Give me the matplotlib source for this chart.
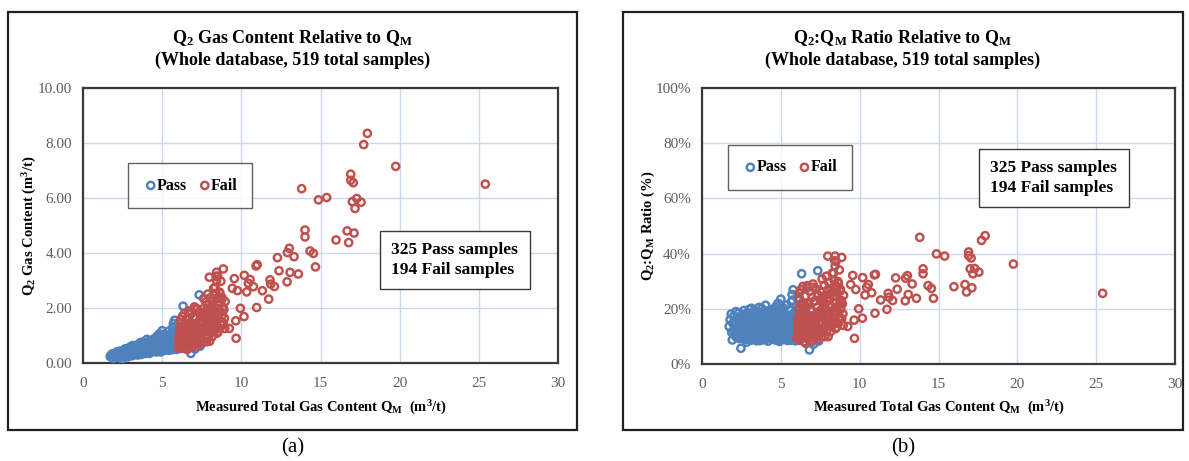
import matplotlib
matplotlib.use("Agg")
import matplotlib.pyplot as plt
import numpy as np
from matplotlib.patches import Rectangle
from matplotlib.ticker import FuncFormatter

# ---------------------------------------------------------------- data
# Measured total gas content Q_M (m3/t) and Q2:Q_M ratio (%) per sample

pass_qm = [
    1.72, 1.78, 1.85, 1.88, 1.92, 1.95, 2.00, 2.03, 2.08, 2.10,
    2.15, 2.18, 2.20, 2.25, 2.28, 2.30, 2.33, 2.36, 2.40, 2.42,
    2.45, 2.47, 2.50, 2.38, 2.12,
    2.52, 2.55, 2.58, 2.60, 2.62, 2.65, 2.67, 2.70, 2.72, 2.75,
    2.77, 2.80, 2.82, 2.85, 2.87, 2.90, 2.92, 2.95, 2.97, 3.00,
    3.02, 3.05, 3.07, 3.10, 3.12, 3.15, 3.17, 3.20, 3.22, 3.25,
    3.27, 3.30, 3.32, 3.35, 3.37, 3.40, 3.42, 3.45, 3.47, 3.50,
    2.56, 2.63, 2.71, 2.79, 2.86, 2.94, 3.03, 3.11, 3.19, 3.28,
    3.36, 3.44, 2.68, 2.83, 2.99, 3.14, 3.31, 3.48, 2.74, 3.09,
    3.52, 3.54, 3.57, 3.59, 3.61, 3.63, 3.66, 3.68, 3.70, 3.72,
    3.75, 3.77, 3.79, 3.81, 3.84, 3.86, 3.88, 3.90, 3.93, 3.95,
    3.97, 3.99, 4.01, 4.03, 4.06, 4.08, 4.10, 4.12, 4.15, 4.17,
    4.19, 4.21, 4.24, 4.26, 4.28, 4.30, 4.33, 4.35, 4.37, 4.39,
    4.42, 4.44, 4.46, 4.48, 3.53, 3.58, 3.64, 3.69, 3.74, 3.80,
    3.85, 3.91, 3.96, 4.02, 4.07, 4.13, 4.18, 4.23, 4.29, 4.34,
    4.40, 4.45, 3.62, 3.78, 3.94, 4.05, 4.20, 4.36, 3.71, 4.00,
    4.50, 4.52, 4.55, 4.57, 4.59, 4.62, 4.64, 4.66, 4.68, 4.71,
    4.73, 4.75, 4.78, 4.80, 4.82, 4.84, 4.87, 4.89, 4.91, 4.93,
    4.96, 4.98, 5.00, 5.02, 5.05, 5.07, 5.09, 5.11, 5.14, 5.16,
    5.18, 5.20, 5.23, 5.25, 5.27, 5.29, 5.32, 5.34, 5.36, 5.38,
    5.41, 5.43, 5.45, 5.47, 5.49, 4.53, 4.58, 4.63, 4.69, 4.74,
    4.79, 4.85, 4.90, 4.95, 5.01, 5.06, 5.12, 5.17, 5.22, 5.28,
    5.33, 5.39, 5.44, 4.61, 4.76, 4.92, 5.04, 5.15, 5.31, 5.46,
    4.67, 4.83, 4.97, 5.10, 5.26,
    5.50, 5.52, 5.54, 5.56, 5.58, 5.60, 5.62, 5.64, 5.66, 5.68,
    5.70, 5.72, 5.74, 5.76, 5.78, 5.80, 5.82, 5.84, 5.86, 5.88,
    5.90, 5.92, 5.94, 5.96, 5.98, 6.00, 6.02, 6.04, 6.06, 6.08,
    6.10, 6.12, 6.14, 6.16, 6.18, 6.20, 6.22, 6.24, 6.26, 6.28,
    6.30, 6.32, 6.34, 6.36, 6.38, 6.40, 6.42, 6.44, 6.46, 6.48,
    5.53, 5.57, 5.61, 5.65, 5.69, 5.73, 5.79, 5.83, 5.89, 5.95,
    6.01, 6.07, 6.13, 6.19, 6.25, 6.31, 6.37, 6.43, 5.71, 5.91,
    6.52, 6.56, 6.60, 6.63, 6.67, 6.70, 6.74, 6.78, 6.81, 6.85,
    6.90, 6.95, 7.00, 7.05, 7.10, 7.15, 7.20, 7.25, 7.30, 7.34,
    7.40, 7.45, 7.50, 6.65, 7.08,
]

pass_ratio = [
    13.6, 16.0, 18.1, 11.5, 8.7, 14.8, 12.2, 17.5, 10.4, 15.3,
    19.0, 13.0, 9.6, 16.8, 11.8, 14.2, 18.5, 12.6, 10.1, 15.9,
    13.4, 5.7, 17.2, 9.2, 12.9,
    14.1, 10.8, 17.9, 12.3, 9.5, 15.6, 19.4, 11.2, 13.8, 16.4,
    8.9, 12.7, 18.2, 14.9, 10.3, 16.9, 12.0, 9.1, 15.2, 19.8,
    11.6, 13.3, 17.0, 8.6, 14.5, 10.9, 16.1, 12.5, 18.8, 9.8,
    15.0, 11.4, 13.9, 17.6, 10.0, 14.3, 19.1, 12.1, 8.4, 16.6,
    13.1, 9.9, 15.8, 11.0, 17.3, 12.8, 10.6, 14.7, 18.4, 9.3,
    13.5, 15.4, 16.2, 7.9, 13.0, 20.2, 11.9, 14.0, 12.4, 17.8,
    12.2, 16.7, 9.4, 14.4, 18.9, 11.1, 13.6, 8.5, 15.7, 10.4,
    17.4, 12.9, 20.1, 9.7, 14.8, 11.7, 16.3, 13.2, 8.8, 18.0,
    10.2, 15.1, 12.6, 21.3, 9.0, 14.0, 17.1, 11.3, 13.7, 16.0,
    8.3, 19.3, 12.0, 10.7, 15.5, 13.4, 9.6, 17.7, 11.9, 14.6,
    16.5, 10.1, 12.8, 19.7, 15.9, 13.0, 9.2, 17.2, 11.5, 14.2,
    18.6, 10.6, 12.3, 16.8, 13.9, 9.9, 15.3, 11.0, 17.9, 12.5,
    14.9, 10.3, 20.5, 13.3, 15.6, 11.8, 18.3, 9.5, 16.1, 14.5,
    13.1, 9.3, 16.6, 11.4, 18.7, 14.1, 8.7, 12.4, 20.8, 15.3,
    10.5, 17.0, 13.5, 9.8, 22.0, 11.9, 16.2, 14.4, 8.2, 19.0,
    12.7, 10.2, 23.5, 15.7, 13.0, 9.1, 17.5, 11.6, 14.8, 20.3,
    8.9, 12.1, 16.4, 10.8, 18.1, 13.8, 9.6, 15.0, 11.2, 21.4,
    14.3, 8.5, 17.3, 12.9, 10.0, 15.5, 12.0, 18.4, 9.4, 14.6,
    11.7, 16.9, 13.3, 8.8, 19.5, 12.5, 15.8, 10.6, 14.0, 17.7,
    11.0, 13.6, 16.1, 10.9, 15.2, 12.2, 9.7, 18.9, 13.9, 11.3,
    14.7, 20.0, 12.6, 16.5, 10.4,
    12.8, 9.0, 16.3, 14.5, 10.7, 19.6, 13.2, 8.6, 22.5, 11.5,
    15.9, 17.8, 9.9, 13.7, 26.9, 12.0, 14.9, 10.3, 18.5, 11.1,
    16.7, 8.4, 13.4, 20.7, 10.9, 15.1, 12.3, 24.0, 9.5, 14.2,
    17.2, 11.8, 13.0, 10.0, 19.9, 12.6, 15.6, 8.9, 21.6, 13.9,
    11.4, 32.7, 16.0, 10.5, 14.7, 18.8, 12.2, 9.7, 15.4, 13.1,
    11.7, 14.3, 17.6, 10.2, 12.9, 23.1, 9.3, 16.9, 13.5, 11.2,
    18.2, 10.8, 14.0, 12.4, 16.4, 9.1, 13.8, 11.6, 25.2, 15.7,
    14.6, 10.1, 20.4, 12.7, 17.1, 9.2, 15.8, 11.9, 5.1, 13.3,
    19.2, 8.0, 16.5, 10.6, 22.8, 12.1, 14.4, 9.6, 18.0, 33.8,
    8.3, 11.0, 15.0, 27.5, 7.2,
]

fail_qm = [
    6.02, 6.05, 6.08, 6.10, 6.12, 6.15, 6.18, 6.20, 6.22, 6.25,
    6.28, 6.30, 6.33, 6.35, 6.38, 6.40, 6.42, 6.45, 6.47, 6.50,
    6.06, 6.16, 6.27, 6.37, 6.44,
    6.53, 6.56, 6.59, 6.62, 6.65, 6.68, 6.71, 6.74, 6.77, 6.80,
    6.83, 6.86, 6.89, 6.92, 6.95, 6.98, 7.01, 7.04, 7.07, 7.10,
    7.13, 7.16, 7.19, 7.22, 7.25, 7.28, 7.31, 7.34, 7.37, 7.40,
    7.43, 7.46, 7.49, 6.60, 6.75, 6.90, 7.05, 7.20, 7.35, 6.66,
    7.52, 7.55, 7.58, 7.60, 7.62, 7.65, 7.68, 7.70, 7.72, 7.75,
    7.78, 7.80, 7.82, 7.85, 7.88, 7.90, 7.92, 7.95, 7.98, 8.00,
    8.02, 8.05, 8.08, 8.10, 8.12, 8.15, 8.18, 8.20, 8.22, 8.25,
    8.28, 7.57, 7.66, 7.74, 7.83, 7.93, 8.03, 8.13, 8.24, 7.61,
    8.30, 8.33, 8.36, 8.39, 8.42, 8.45, 8.48, 8.50, 8.53, 8.56,
    8.59, 8.62, 8.65, 8.68, 8.71, 8.74, 8.77, 8.80, 8.83, 8.86,
    8.90, 8.94, 8.98, 8.35, 8.47, 8.58, 8.70, 8.82, 8.44, 8.64,
    8.78, 8.52,
    17.96, 17.73, 19.75, 25.41, 16.91, 16.91, 17.07, 13.81, 14.87, 15.39,
    17.01, 17.29, 17.56, 17.18, 14.02, 14.02, 16.68, 17.12, 15.98, 16.78,
    13.03, 12.91, 13.33, 12.28, 14.34, 14.55, 14.68, 10.93, 11.00, 12.38,
    13.08, 13.60, 12.89, 11.81, 11.86, 12.09, 10.19, 10.55, 10.44, 10.76,
    11.33, 11.73, 10.97, 9.56, 9.43, 9.75, 10.34, 9.94, 10.17, 9.65,
    9.67, 8.86, 8.44, 7.98, 9.24, 8.96, 8.42,
]

fail_ratio = [
    9.3, 12.5, 16.8, 10.4, 20.1, 14.2, 8.6, 23.5, 11.8, 17.9,
    26.9, 13.5, 9.8, 19.4, 15.6, 28.1, 11.2, 22.0, 8.1, 17.0,
    14.8, 25.6, 12.0, 21.2, 10.3,
    13.2, 24.6, 7.5, 18.3, 10.9, 28.4, 15.7, 9.2, 21.8, 12.6,
    26.3, 16.9, 8.4, 19.8, 11.5, 24.1, 14.3, 29.0, 10.2, 17.6,
    22.7, 9.6, 13.9, 27.2, 16.1, 11.0, 20.5, 8.8, 25.0, 14.6,
    18.7, 12.2, 23.3, 20.9, 9.9, 15.2, 27.8, 12.9, 17.4, 16.0,
    19.5, 11.3, 26.0, 15.4, 30.8, 10.1, 22.3, 17.7, 13.0, 28.6,
    20.2, 9.9, 24.8, 14.9, 31.8, 18.6, 12.1, 26.7, 16.3, 9.9,
    21.4, 29.5, 13.6, 23.9, 18.0, 11.7, 27.3, 15.2, 20.7, 32.9,
    14.1, 17.2, 12.5, 21.0, 16.6, 23.0, 19.1, 25.4, 17.5, 24.0,
    14.2, 24.5, 19.0, 30.2, 16.6, 27.8, 22.1, 37.2, 13.3, 25.9,
    18.7, 29.9, 29.3, 21.5, 34.1, 15.8, 26.4, 19.8, 23.0, 16.4,
    21.8, 18.2, 24.9, 33.0, 12.8, 28.0, 16.9, 22.4, 35.5, 14.7,
    27.1, 20.3,
    46.5, 44.8, 36.2, 25.6, 40.6, 39.3, 38.4, 45.9, 39.9, 39.1,
    34.5, 34.6, 33.3, 32.7, 34.5, 32.7, 28.8, 27.6, 28.0, 26.1,
    32.0, 31.1, 29.0, 31.2, 28.4, 27.4, 23.8, 32.3, 32.5, 27.1,
    25.2, 23.8, 22.9, 25.6, 24.2, 23.0, 31.3, 28.8, 27.8, 25.8,
    23.2, 19.8, 18.4, 32.1, 28.8, 27.0, 25.0, 20.0, 16.6, 15.9,
    9.3, 38.6, 39.1, 39.1, 13.6, 14.0, 37.4,
]

n_pass = 325
n_fail = 194

x_ticks = [0, 5, 10, 15, 20, 25, 30]
q2_ticks = [0, 2, 4, 6, 8, 10]
ratio_ticks = [0, 20, 40, 60, 80, 100]

pass_qm = np.array(pass_qm)
pass_ratio = np.array(pass_ratio)
fail_qm = np.array(fail_qm)
fail_ratio = np.array(fail_ratio)
pass_q2 = pass_qm * pass_ratio / 100.0
fail_q2 = fail_qm * fail_ratio / 100.0

# ---------------------------------------------------------------- style
plt.rcParams["font.family"] = ["Liberation Serif", "DejaVu Serif"]
plt.rcParams["mathtext.fontset"] = "custom"
plt.rcParams["mathtext.rm"] = "Liberation Serif"
plt.rcParams["mathtext.it"] = "Liberation Serif:italic"
plt.rcParams["mathtext.bf"] = "Liberation Serif:bold"

PASS_C = "#4F81BD"
FAIL_C = "#C0504D"
GRID_C = "#C9D8F0"
FRAME_C = "#3A3A3A"
TICK_C = "#5E5E5E"

MARKER_S = 27
MARKER_LW = 1.75

W, H = 1189, 461
fig = plt.figure(figsize=(W / 100, H / 100), dpi=100)


def fx(px):
    return px / W


def fy(py):
    return 1 - py / H


def panel_box(x0, x1, y0, y1):
    fig.add_artist(Rectangle((fx(x0), fy(y1)), fx(x1) - fx(x0), fy(y0) - fy(y1),
                             transform=fig.transFigure, fill=False,
                             edgecolor="#202020", lw=1.6))


def draw_panel(rect, ypass, yfail, yticks, yfmt, title, ylabel, ylabel_x,
               legend_xy, note_xy, box_x, tag):
    ax = fig.add_axes(rect)
    ax.set_xlim(x_ticks[0], x_ticks[-1])
    ax.set_ylim(yticks[0], yticks[-1])
    ax.set_xticks(x_ticks)
    ax.set_yticks(yticks)
    ax.yaxis.set_major_formatter(FuncFormatter(yfmt))
    ax.grid(True, color=GRID_C, lw=1.0)
    ax.set_axisbelow(True)
    for s in ax.spines.values():
        s.set_color(FRAME_C)
        s.set_linewidth(1.6)
    ax.tick_params(length=0, labelsize=11, labelcolor=TICK_C)
    ax.tick_params(axis="x", pad=10)
    ax.tick_params(axis="y", pad=8)

    hp = ax.scatter(pass_qm, ypass, s=MARKER_S, facecolors="none",
                    edgecolors=PASS_C, linewidths=MARKER_LW, zorder=3,
                    label="Pass")
    hf = ax.scatter(fail_qm, yfail, s=MARKER_S, facecolors="none",
                    edgecolors=FAIL_C, linewidths=MARKER_LW, zorder=4,
                    label="Fail")

    leg = ax.legend(handles=[hp, hf], loc="center", bbox_to_anchor=legend_xy,
                    ncol=2, frameon=True, fancybox=False, handletextpad=-0.1,
                    columnspacing=0.6, borderpad=0.9, handlelength=1.0,
                    borderaxespad=0.0,
                    prop={"weight": "bold", "size": 11.5})
    leg.get_frame().set_edgecolor(FRAME_C)
    leg.get_frame().set_linewidth(1.0)

    ax.text(note_xy[0], note_xy[1],
            "%d Pass samples\n%d Fail samples" % (n_pass, n_fail),
            transform=ax.transAxes, ha="center", va="center",
            multialignment="left", fontsize=12.5, fontweight="bold",
            linespacing=1.3, zorder=6,
            bbox=dict(boxstyle="square,pad=0.65", fc="white",
                      ec=FRAME_C, lw=1.0))

    cx = (box_x[0] + box_x[1]) / 2
    fig.text(fx(cx), fy(38), title, ha="center", va="center",
             fontsize=13, fontweight="bold")
    fig.text(fx(cx), fy(60), "(Whole database, 519 total samples)",
             ha="center", va="center", fontsize=13, fontweight="bold")

    ax_cx = rect[0] + rect[2] / 2
    fig.text(ax_cx, fy(408),
             r"Measured Total Gas Content $\mathregular{Q_M}$  ($\mathregular{m^3}$/t)",
             ha="center", va="center", fontsize=10.5, fontweight="bold")
    fig.text(fx(ylabel_x), rect[1] + rect[3] / 2, ylabel, rotation=90,
             ha="center", va="center", fontsize=10.5, fontweight="bold")
    fig.text(fx(cx), fy(448), tag, ha="center", va="center", fontsize=15)
    return ax


panel_box(8, 577, 12, 430)
panel_box(623, 1183, 12, 430)

draw_panel([fx(83), fy(363), fx(558) - fx(83), fy(88) - fy(363)],
           pass_q2, fail_q2, q2_ticks, lambda v, p: "%.2f" % v,
           r"$\mathregular{Q_2}$ Gas Content Relative to $\mathregular{Q_M}$",
           r"$\mathregular{Q_2}$ Gas Content ($\mathregular{m^3}$/t)", 30,
           (0.226, 0.645), (0.783, 0.375), (8, 577), "(a)")

draw_panel([fx(702), fy(364), fx(1175) - fx(702), fy(88) - fy(364)],
           pass_ratio, fail_ratio, ratio_ticks, lambda v, p: "%d%%" % v,
           r"$\mathregular{Q_2}$:$\mathregular{Q_M}$ Ratio Relative to $\mathregular{Q_M}$",
           r"$\mathregular{Q_2}$:$\mathregular{Q_M}$ Ratio (%)", 648,
           (0.186, 0.712), (0.744, 0.674), (623, 1183), "(b)")

fig.savefig("out.png", dpi=100, facecolor="white")
